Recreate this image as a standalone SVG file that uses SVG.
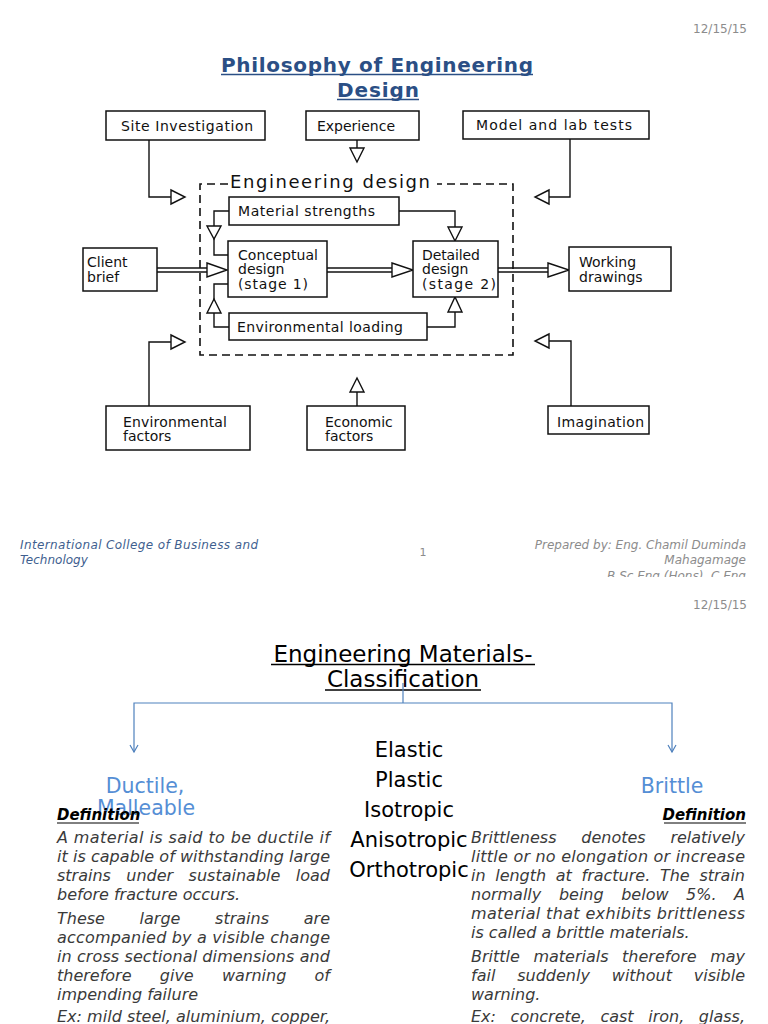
<svg xmlns="http://www.w3.org/2000/svg" width="768" height="1024" viewBox="0 0 768 1024">
<style>
.box{fill:#fff;stroke:#111;stroke-width:1.5}
.lbl{font-family:"DejaVu Sans",sans-serif;font-size:14px;fill:#111}
.ln{fill:none;stroke:#111;stroke-width:1.4}
.tri{fill:#fff;stroke:#111;stroke-width:1.4;stroke-linejoin:miter}
.dash{fill:none;stroke:#111;stroke-width:1.6;stroke-dasharray:8 5}
.date{font-family:"DejaVu Sans",sans-serif;font-size:12px;fill:#8c8c8c}
.foot{font-family:"DejaVu Sans",sans-serif;font-size:12px;font-style:italic}
.t1{font-family:"DejaVu Sans",sans-serif;font-size:20px;font-weight:bold;fill:#2b4f85}
.t2{font-family:"DejaVu Sans",sans-serif;font-size:23px;fill:#000}
.list{font-family:"DejaVu Sans",sans-serif;font-size:21px;fill:#000;text-anchor:middle}
.cat{font-family:"DejaVu Sans",sans-serif;font-size:20.5px;fill:#558ed5;text-anchor:middle}
.def{font-family:"DejaVu Sans",sans-serif;font-size:15px;font-weight:bold;font-style:italic;fill:#000}
.para{font-family:"DejaVu Sans",sans-serif;font-size:16px;font-style:italic;fill:#3a3a3a}
.end{text-anchor:end}
.blue{fill:none;stroke:#4f81bd;stroke-width:1.2}
</style>
<defs>
<clipPath id="slide1"><rect x="0" y="0" width="768" height="577"/></clipPath>
</defs>
<rect width="768" height="1024" fill="#fff"/>

<!-- Slide 1 -->
<text class="date" x="747" y="33" text-anchor="end">12/15/15</text>
<text class="t1" x="221" y="72" textLength="312" lengthAdjust="spacing">Philosophy of Engineering</text>
<text class="t1" x="337" y="97" textLength="82" lengthAdjust="spacing">Design</text>
<line x1="221" y1="74.5" x2="533" y2="74.5" stroke="#2b4f85" stroke-width="1.5"/>
<line x1="337" y1="99.5" x2="419" y2="99.5" stroke="#2b4f85" stroke-width="1.5"/>

<g id="engineering-design">
<path class="dash" d="M228,184 H200 V355 H513 V184 H437"/>
<text class="lbl" x="230" y="188" style="font-size:18px" textLength="200" lengthAdjust="spacing">Engineering design</text>
</g>

<g id="connectors">
<polyline class="ln" points="149,140 149,197 171,197"/>
<polygon class="tri" points="171,190 185,197 171,204"/>
<line class="ln" x1="357" y1="140" x2="357" y2="148"/>
<polygon class="tri" points="350,148 364,148 357,162"/>
<polyline class="ln" points="570,139 570,197 549,197"/>
<polygon class="tri" points="549,190 535,197 549,204"/>
<line class="ln" x1="157" y1="268" x2="207" y2="268"/>
<line class="ln" x1="157" y1="272" x2="207" y2="272"/>
<polygon class="tri" points="207,263 227,270 207,277"/>
<line class="ln" x1="327" y1="268" x2="392" y2="268"/>
<line class="ln" x1="327" y1="272" x2="392" y2="272"/>
<polygon class="tri" points="392,263 413,270 392,277"/>
<line class="ln" x1="498" y1="268" x2="548" y2="268"/>
<line class="ln" x1="498" y1="272" x2="548" y2="272"/>
<polygon class="tri" points="548,263 569,270 548,277"/>
<polyline class="ln" points="229,211 214,211 214,255 228,255"/>
<polygon class="tri" points="207,226 221,226 214,239"/>
<polyline class="ln" points="399,211 455,211 455,227"/>
<polygon class="tri" points="448,227 462,227 455,241"/>
<polyline class="ln" points="229,327 214,327 214,284 228,284"/>
<polygon class="tri" points="207,313 221,313 214,299"/>
<polyline class="ln" points="427,327 455,327 455,312"/>
<polygon class="tri" points="448,312 462,312 455,297"/>
<polyline class="ln" points="149,406 149,342 171,342"/>
<polygon class="tri" points="171,335 185,342 171,349"/>
<line class="ln" x1="357" y1="406" x2="357" y2="392"/>
<polygon class="tri" points="350,392 364,392 357,378"/>
<polyline class="ln" points="571,406 571,341 549,341"/>
<polygon class="tri" points="549,334 535,341 549,348"/>
</g>

<g id="site-investigation">
<rect class="box" x="106" y="111" width="159" height="29"/>
<text class="lbl" x="121" y="131" textLength="132" lengthAdjust="spacing">Site Investigation</text>
</g>
<g id="experience">
<rect class="box" x="306" y="111" width="113" height="29"/>
<text class="lbl" x="317" y="131" textLength="78" lengthAdjust="spacing">Experience</text>
</g>
<g id="model-lab-tests">
<rect class="box" x="463" y="111" width="186" height="28"/>
<text class="lbl" x="476" y="130" textLength="156" lengthAdjust="spacing">Model and lab tests</text>
</g>
<g id="material-strengths">
<rect class="box" x="229" y="197" width="170" height="28"/>
<text class="lbl" x="238" y="216" textLength="137" lengthAdjust="spacing">Material strengths</text>
</g>
<g id="conceptual-design">
<rect class="box" x="228" y="241" width="99" height="56"/>
<text class="lbl" x="238" y="260" textLength="80" lengthAdjust="spacing">Conceptual</text>
<text class="lbl" x="238" y="274">design</text>
<text class="lbl" x="238" y="289" textLength="70" lengthAdjust="spacing">(stage 1)</text>
</g>
<g id="detailed-design">
<rect class="box" x="413" y="241" width="85" height="56"/>
<text class="lbl" x="422" y="260" textLength="58" lengthAdjust="spacing">Detailed</text>
<text class="lbl" x="422" y="274">design</text>
<text class="lbl" x="422" y="289" textLength="74" lengthAdjust="spacing">(stage 2)</text>
</g>
<g id="environmental-loading">
<rect class="box" x="229" y="313" width="198" height="27"/>
<text class="lbl" x="237" y="332" textLength="166" lengthAdjust="spacing">Environmental loading</text>
</g>
<g id="client-brief">
<rect class="box" x="83" y="248" width="74" height="43"/>
<text class="lbl" x="87" y="267">Client</text>
<text class="lbl" x="87" y="282">brief</text>
</g>
<g id="working-drawings">
<rect class="box" x="569" y="247" width="102" height="44"/>
<text class="lbl" x="579" y="267">Working</text>
<text class="lbl" x="579" y="282">drawings</text>
</g>
<g id="environmental-factors">
<rect class="box" x="106" y="406" width="144" height="44"/>
<text class="lbl" x="123" y="427" textLength="104" lengthAdjust="spacing">Environmental</text>
<text class="lbl" x="123" y="441">factors</text>
</g>
<g id="economic-factors">
<rect class="box" x="307" y="406" width="98" height="44"/>
<text class="lbl" x="325" y="427">Economic</text>
<text class="lbl" x="325" y="441">factors</text>
</g>
<g id="imagination">
<rect class="box" x="548" y="406" width="101" height="28"/>
<text class="lbl" x="557" y="427" textLength="87" lengthAdjust="spacing">Imagination</text>
</g>

<g clip-path="url(#slide1)">
<text class="foot" x="20" y="549" fill="#3f5f8f" textLength="238" lengthAdjust="spacing">International College of Business and</text>
<text class="foot" x="20" y="564" fill="#3f5f8f">Technology</text>
<text class="date" x="423" y="556" text-anchor="middle" style="font-size:11px">1</text>
<text class="foot" x="746" y="549" fill="#8c8c8c" text-anchor="end">Prepared by: Eng. Chamil Duminda</text>
<text class="foot" x="746" y="564" fill="#8c8c8c" text-anchor="end">Mahagamage</text>
<text class="foot" x="746" y="580" fill="#8c8c8c" text-anchor="end">B.Sc.Eng (Hons), C.Eng</text>
</g>

<!-- Slide 2 -->
<text class="date" x="747" y="609" text-anchor="end">12/15/15</text>
<text class="t2" x="403" y="662" text-anchor="middle">Engineering Materials-</text>
<text class="t2" x="403" y="687" text-anchor="middle">Classification</text>
<line x1="271" y1="664.5" x2="535" y2="664.5" stroke="#000" stroke-width="1.3"/>
<line x1="325" y1="690" x2="481" y2="690" stroke="#000" stroke-width="1.3"/>

<g id="classification-connectors">
<polyline class="blue" points="403,683 403,703"/>
<polyline class="blue" points="134,752 134,703 672,703 672,752"/>
<polyline class="blue" points="130,745 134,752 138,745"/>
<polyline class="blue" points="668,745 672,752 676,745"/>
</g>

<g id="ductile">
<text class="cat" x="145" y="793">Ductile,</text>
<text class="cat" x="146" y="815">Malleable</text>
</g>
<g id="brittle">
<text class="cat" x="672" y="793">Brittle</text>
</g>
<g id="properties">
<text class="list" x="409" y="757">Elastic</text>
<text class="list" x="409" y="787">Plastic</text>
<text class="list" x="409" y="817">Isotropic</text>
<text class="list" x="409" y="847">Anisotropic</text>
<text class="list" x="409" y="877">Orthotropic</text>
</g>

<g id="ductile-definition">
<text class="def" x="57" y="820">Definition</text>
<line x1="57" y1="823" x2="139" y2="823" stroke="#000" stroke-width="1"/>
<text class="para" x="57" y="843" textLength="273" lengthAdjust="spacing">A material is said to be ductile if</text>
<text class="para" x="57" y="862" textLength="273" lengthAdjust="spacing">it is capable of withstanding large</text>
<text class="para" y="881"><tspan x="57">strains</tspan><tspan x="126.3">under</tspan><tspan x="188.6">sustainable</tspan></text>
<text class="para end" x="330" y="881">load</text>
<text class="para" x="57" y="900">before fracture occurs.</text>
<text class="para" y="924"><tspan x="57">These</tspan><tspan x="139.6">large</tspan><tspan x="215.1">strains</tspan></text>
<text class="para end" x="330" y="924">are</text>
<text class="para" x="57" y="943" textLength="273" lengthAdjust="spacing">accompanied by a visible change</text>
<text class="para" x="57" y="962" textLength="273" lengthAdjust="spacing">in cross sectional dimensions and</text>
<text class="para" y="981"><tspan x="57">therefore</tspan><tspan x="159.8">give</tspan><tspan x="222">warning</tspan></text>
<text class="para end" x="330" y="981">of</text>
<text class="para" x="57" y="1000">impending failure</text>
<text class="para" x="57" y="1022" textLength="273" lengthAdjust="spacing">Ex: mild steel, aluminium, copper,</text>
</g>

<g id="brittle-definition">
<text class="def end" x="746" y="820">Definition</text>
<line x1="664" y1="823" x2="746" y2="823" stroke="#000" stroke-width="1"/>
<text class="para" y="843"><tspan x="471">Brittleness</tspan><tspan x="581.3">denotes</tspan></text>
<text class="para end" x="745" y="843">relatively</text>
<text class="para" x="471" y="862" textLength="274" lengthAdjust="spacing">little or no elongation or increase</text>
<text class="para" y="881"><tspan x="471">in</tspan><tspan x="495.2">length</tspan><tspan x="555.8">at</tspan><tspan x="581.5">fracture.</tspan><tspan x="659.9">The</tspan></text>
<text class="para end" x="745" y="881">strain</text>
<text class="para" y="900"><tspan x="471">normally</tspan><tspan x="558.9">being</tspan><tspan x="621.2">below</tspan><tspan x="686.1">5%.</tspan></text>
<text class="para end" x="745" y="900">A</text>
<text class="para" x="471" y="919" textLength="274" lengthAdjust="spacing">material that exhibits brittleness</text>
<text class="para" x="471" y="938">is called a brittle materials.</text>
<text class="para" y="962"><tspan x="471">Brittle</tspan><tspan x="533.4">materials</tspan><tspan x="622.1">therefore</tspan></text>
<text class="para end" x="745" y="962">may</text>
<text class="para" y="981"><tspan x="471">fail</tspan><tspan x="517.2">suddenly</tspan><tspan x="611.8">without</tspan></text>
<text class="para end" x="745" y="981">visible</text>
<text class="para" x="471" y="1000">warning.</text>
<text class="para" y="1022"><tspan x="471">Ex:</tspan><tspan x="510.6">concrete,</tspan><tspan x="600.4">cast</tspan><tspan x="648.2">iron,</tspan></text>
<text class="para end" x="745" y="1022">glass,</text>
</g>
</svg>
